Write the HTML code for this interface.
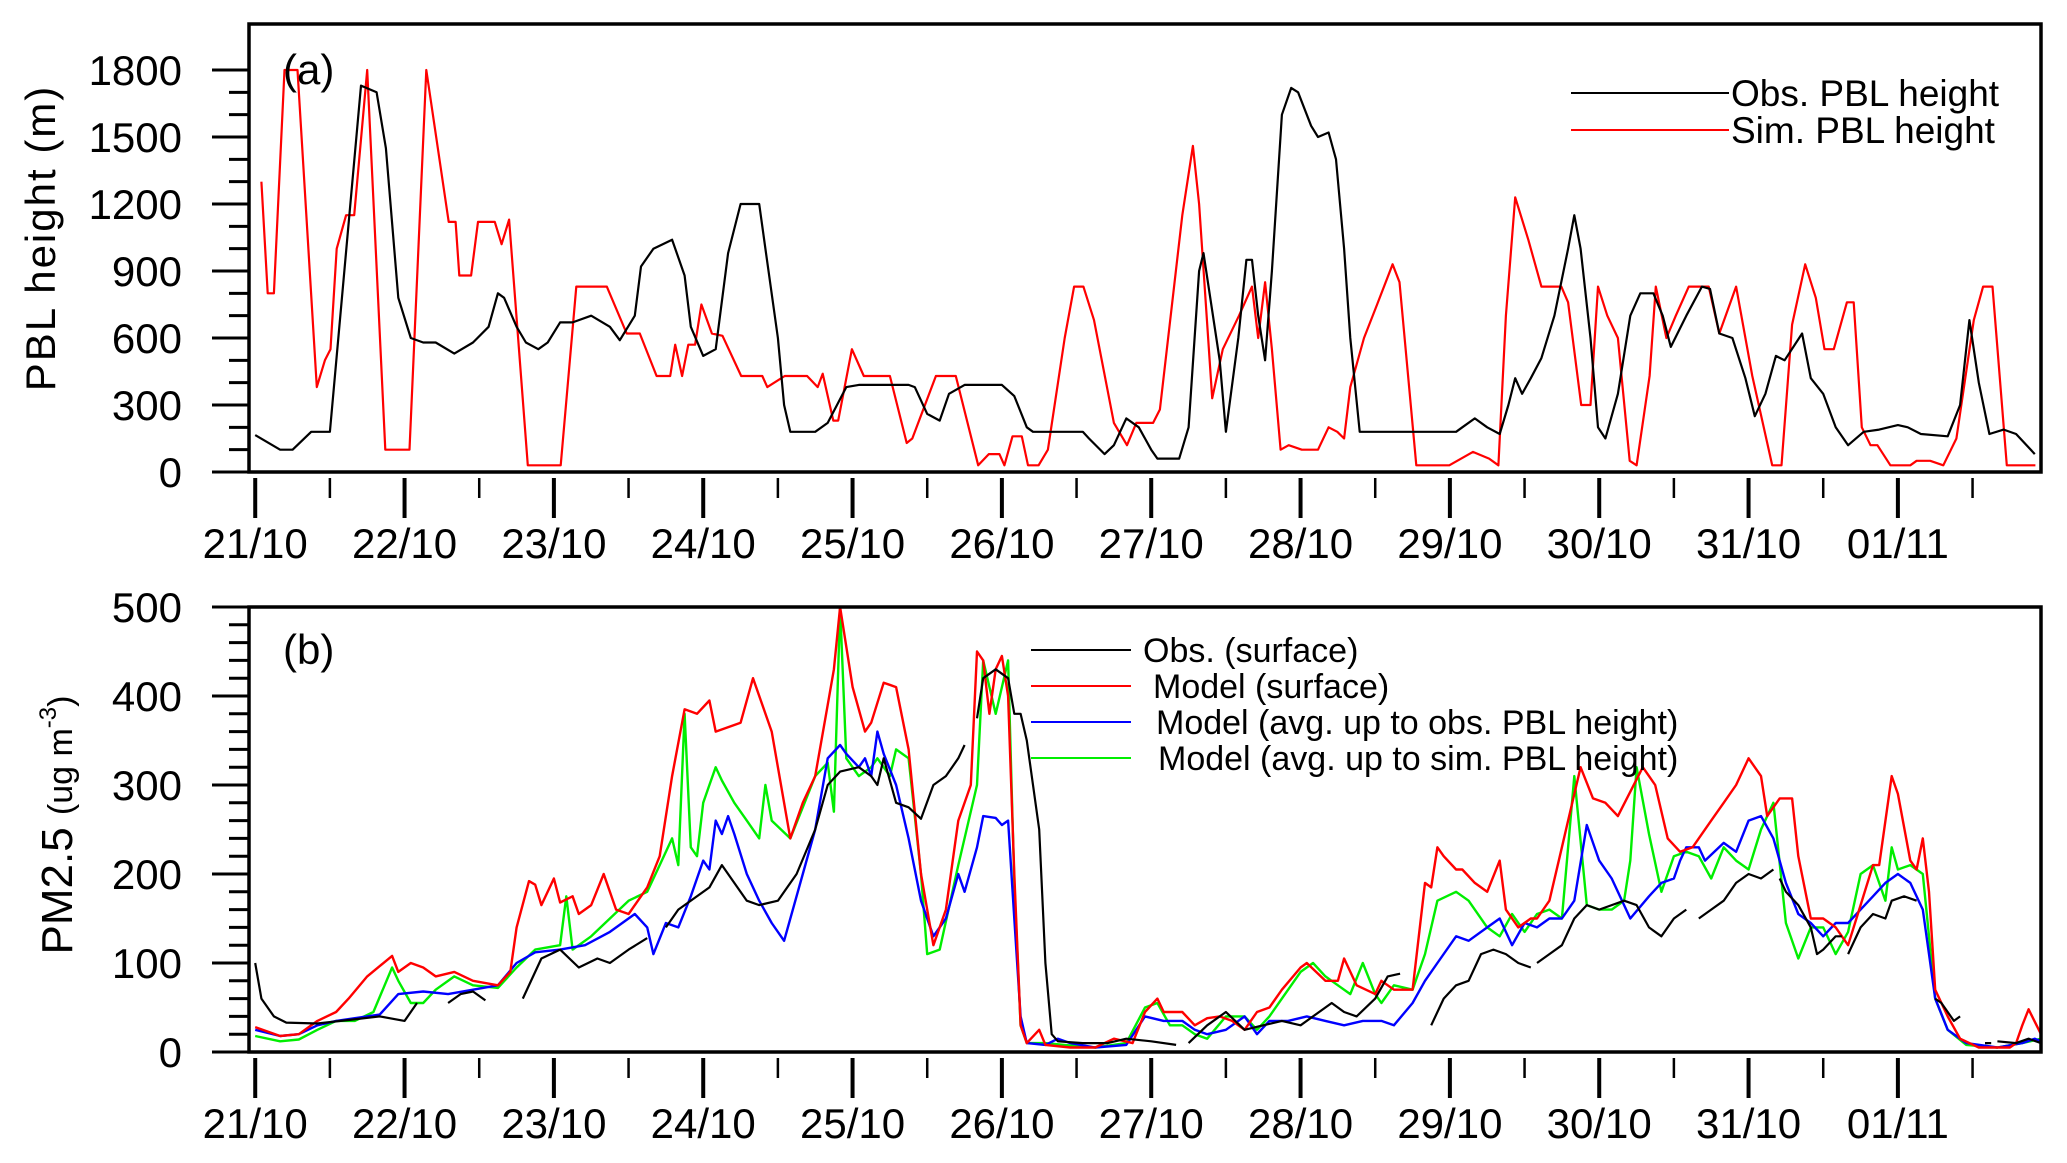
<!DOCTYPE html>
<html><head><meta charset="utf-8"><style>
body{margin:0;background:#fff;}
svg{display:block;font-family:"Liberation Sans",sans-serif;}
</style></head><body>
<svg id="chart" width="2067" height="1163" viewBox="0 0 2067 1163" xmlns="http://www.w3.org/2000/svg"></svg>
<script>
// ---------- data (time in hours from 21/10 00:00) ----------
const dayLabels = ["21/10","22/10","23/10","24/10","25/10","26/10","27/10","28/10","29/10","30/10","31/10","01/11"];
const pblTicks = [0,300,600,900,1200,1500,1800];
const pmTicks = [0,100,200,300,400,500];

const obsPblT = [0,4,6,9,12,17,19.5,21,23,25,27,29,32,35,37.5,39,40,42,43.5,45.5,47,49,51,54,57,58.6,61,62,64,67,69,70,72,74,76,78,81,82,84,85,86,90,92,95,97,105,106,108,110,111.5,114,120,122,124,125,133,134,136.5,138,140,142,144,145,148.5,150,151.7,152.4,155,156,158,159.3,160.2,161.2,162.3,163.4,165,166.5,167.6,169.7,170.8,172.5,173.7,175,176,177.5,193,194,196,198,200,201.4,202.5,203.6,205,206.7,208.8,211,212,213,214.6,215.8,217,219,221,222.6,224.7,226.2,227.5,230,232.5,233.8,235.3,237.4,239.5,241,242.7,244.4,245.8,248.6,250,252,254,256,258.5,261,264,265.6,267.7,272,274,275.5,277,278.7,281,283,286];
const obsPbl = [165,100,100,180,180,1730,1700,1450,780,600,580,580,530,580,650,800,780,650,580,550,580,670,670,700,650,590,700,920,1000,1040,880,650,520,550,980,1200,1200,1000,600,300,180,180,220,380,390,390,380,260,230,350,390,390,340,200,180,180,150,80,120,240,200,100,60,60,200,900,980,500,180,600,950,950,700,500,900,1600,1720,1700,1550,1500,1520,1400,1000,600,180,180,200,240,200,170,300,420,350,420,510,700,1000,1150,1000,600,200,150,350,700,800,800,700,560,700,830,820,620,600,420,250,350,520,500,620,420,350,200,120,180,190,210,200,170,160,300,680,400,170,190,170,80];

const simPblT = [1,2,3,4.7,6.8,9.9,11.2,12.1,13.1,14.6,15.9,18,20.9,24.8,27.5,31.1,32.2,32.8,34.7,35.8,38.5,39.6,40.8,43.8,49.1,51.6,56.5,59.7,61.8,64.5,66.7,67.5,68.6,69.6,70.7,71.7,73.4,75.1,78.1,81.5,82.3,85.1,88.7,90.4,91.2,92.9,93.7,95.9,97.8,102,104.7,105.6,109.4,112.6,116.2,117.9,119.6,120.4,121.7,123.2,124.2,125.9,127.4,130.1,131.6,133.1,134.8,138,140.1,141.6,144.3,145.4,149,150.7,151.7,153.8,155.5,158.1,160.2,161.2,162.3,163.4,164.8,166.1,168.2,170.8,172.5,173.9,175,176,178.2,180.3,182.8,183.9,186.6,191.9,195.7,198.3,199.8,201,202.5,204.6,206.7,209.9,211,213.1,214.6,215.8,217.3,219,220.9,222,224.1,225.1,226.8,228.3,230.4,233.6,235.3,238,240.6,243.8,245.3,247,249.1,250.8,252.2,253.7,255.8,256.9,258.2,259.6,260.7,262.8,266,267,269.2,271.3,273.4,276.2,277.7,279.2,281.5,286.1];
const simPbl = [1300,800,800,1800,1800,380,500,550,1000,1150,1150,1800,100,100,1800,1120,1120,880,880,1120,1120,1020,1130,30,30,830,830,620,620,430,430,570,430,570,570,750,620,610,430,430,380,430,430,380,440,230,230,550,430,430,130,150,430,430,30,80,80,30,160,160,30,30,100,600,830,830,680,220,120,220,220,280,1150,1460,1200,330,550,700,830,600,850,550,100,120,100,100,200,180,150,380,600,750,930,850,30,30,90,60,30,700,1230,1040,830,830,760,300,300,830,700,600,50,30,430,830,600,700,830,830,620,830,430,30,30,660,930,780,550,550,760,760,200,120,120,30,30,50,50,30,150,680,830,830,30,30];

const redT = [0,4,7,10,13,15,18,22,23,25,27,29,32,35,39,41,42,44,45,46,48,49,51,52,54,56,58,60,63,65,67,69,71,73,74,78,80,83,86,88,90,92,93,94,96,98,99,101,103,105,107,109,111,113,115,116,117,118,119,120,121,122,123,124,126,127,131,135,138,141,143,145,146,149,151,153,155,157,159,161,163,165,168,169,172,174,175,177,180,181,183,186,188,189,190,191,193,194,196,198,200,201,203,205,206,208,210,211,213,215,217,219,223,225,227,229,231,234,236,238,240,242,243,245,247,248,250,252,254,256,258,260,261,263,264,266,267,268,269,270,272,274,277,282,283,284,285,287];
const redV = [28,18,20,35,45,60,85,108,90,100,95,85,90,80,75,90,140,192,188,165,195,168,175,155,165,200,160,155,185,220,310,385,380,395,360,370,420,360,240,280,310,390,430,500,410,360,370,415,410,340,200,120,160,260,300,450,440,380,430,445,400,200,30,10,25,8,5,5,15,10,45,60,45,45,30,38,40,35,25,45,50,70,95,100,80,80,105,75,65,80,70,70,190,185,230,220,205,205,190,180,215,160,140,150,150,170,230,260,320,285,280,265,320,300,240,225,230,260,280,300,330,310,265,285,285,220,150,150,140,120,165,210,210,310,290,215,205,240,180,70,40,15,5,5,10,30,48,20];

const blueT = [0,4,7,10,13,16,20,23,27,31,35,39,42,45,49,53,57,61,63,64,66,68,70,72,73,74,75,76,77,79,81,83,85,88,90,92,94,95,97,98,99,100,101,103,105,107,109,111,113,114,116,117,119,120,121,122,123,124,127,129,131,135,140,143,146,149,151,153,156,159,161,163,166,169,172,175,178,181,183,186,188,190,193,195,198,200,202,204,206,208,210,212,214,216,218,221,224,226,228,229,230,232,233,236,238,240,242,244,246,248,250,252,254,256,258,260,262,264,266,268,270,272,275,280,284,286,287];
const blueV = [25,18,20,30,35,38,42,65,68,65,70,75,100,112,115,120,135,155,140,110,145,140,175,215,205,260,245,265,245,200,170,145,125,200,250,330,345,335,320,330,310,360,335,300,240,170,130,150,200,180,230,265,263,255,260,150,40,10,8,15,10,5,8,40,35,35,25,20,25,40,20,35,35,40,35,30,35,35,30,55,80,100,130,125,140,150,120,145,140,150,150,170,255,215,195,150,175,190,195,215,230,230,215,235,225,260,265,240,190,155,145,130,145,145,160,175,190,200,190,160,60,25,10,5,10,15,12];

const greenT = [0,4,7,10,13,16,19,22,23,25,27,29,32,35,39,42,45,49,50,51,54,57,60,63,65,67,68,69,70,71,72,73,74,75,77,79,81,82,83,86,88,90,92,93,94,95,97,99,100,102,103,105,107,108,110,113,116,117,119,120,121,122,123,124,127,130,135,140,143,145,147,149,151,153,156,159,161,163,165,168,170,172,174,176,178,180,181,183,186,188,190,193,195,198,200,202,204,206,208,210,212,214,216,218,220,221,222,224,226,228,230,232,234,236,238,240,242,244,246,248,250,252,254,256,258,260,262,263,264,266,268,270,272,275,280,284,287];
const greenV = [18,12,14,25,35,35,45,95,80,55,55,70,85,75,72,95,115,120,175,115,130,150,170,180,210,240,210,380,230,220,280,300,320,305,280,260,240,300,260,240,275,310,325,270,500,330,310,320,330,310,340,330,200,110,115,210,300,440,380,410,440,190,30,10,10,8,5,10,50,55,30,30,20,15,40,40,25,40,60,90,100,85,75,65,100,65,55,75,70,110,170,180,170,140,130,155,135,155,160,150,310,165,160,160,170,215,320,245,180,220,225,220,195,230,215,205,250,280,145,105,140,140,110,135,200,210,170,230,205,210,200,60,25,8,5,10,15];

// observed surface PM2.5 (null = missing)
const obsPmT = [0,1,3,5,10,15,20,24,26,27,31,33,35,37,38,43,46,49,52,55,57,60,63,64,66,68,73,75,77,79,81,84,87,90,92,94,97,99,100,101,103,105,107,109,111,113,114,115,116,117,119,121,122,123,124,125,126,127,128,129,133,137,140,144,148,149,150,153,156,159,162,165,168,170,173,175,177,180,182,184,185,186,187,189,191,193,195,197,199,201,203,205,205.5,206,208,210,212,214,216,218,220,222,224,226,228,230,231,232,234,236,238,240,242,244,244.5,245,246,248,250,251,252,254,255,255.5,256,258,260,262,263,265,267,268,270,271,272,273,274,275,278,279,279.5,280,283,285,287];
const obsPm = [100,60,40,33,32,36,40,35,55,null,55,65,68,58,null,60,105,115,95,105,100,115,128,null,140,160,185,210,190,170,165,170,200,250,300,315,320,310,300,330,280,275,262,300,310,330,345,null,375,420,430,420,380,380,350,300,250,100,20,12,10,10,15,12,8,null,10,30,45,25,30,35,30,40,55,45,40,60,85,88,null,70,null,30,60,75,80,110,115,110,100,95,null,100,110,120,150,165,160,165,170,165,140,130,150,160,null,150,160,170,190,200,195,205,null,195,180,165,140,110,115,130,130,null,110,140,155,150,170,175,170,null,60,55,45,35,40,null,10,10,null,12,10,15,10];

// ---------- layout ----------
const svg = document.getElementById('chart');
const NS = 'http://www.w3.org/2000/svg';
function mk(tag, attrs, parent){
  const e = document.createElementNS(NS, tag);
  for (const k in attrs) e.setAttribute(k, attrs[k]);
  (parent || svg).appendChild(e);
  return e;
}
const X0 = 249, X1 = 2041;
const tMin = -1, tMax = 287;
function xs(t){ return X0 + (t - tMin) / (tMax - tMin) * (X1 - X0); }
const A = {top:24, bot:472, vmax:1800*(472-24)/(472-70)};
const B = {top:607, bot:1052, vmax:500};
function ya(v){ return A.bot - v / A.vmax * (A.bot - A.top); }
function yb(v){ return B.bot - v / B.vmax * (B.bot - B.top); }

function linePath(T, V, yf){
  let d = '', pen = false;
  for (let i = 0; i < T.length; i++){
    if (V[i] === null){ pen = false; continue; }
    d += (pen ? 'L' : 'M') + xs(T[i]).toFixed(1) + ' ' + yf(V[i]).toFixed(1);
    pen = true;
  }
  return d;
}

function drawPanel(P, yf, ticks, minorStep, vmaxTick, panelName){
  const g = mk('g', {});
  
  
  for (let v = 0; v <= vmaxTick; v += minorStep){
    const y = yf(v);
    const major = ticks.includes(v);
    const t = mk('line', {x1: major ? X0-37 : X0-20, x2: X0, y1: y, y2: y, stroke:'#000', 'stroke-width': 3}, g);
    
    
  }
  ticks.forEach(v => {
    const tx = mk('text', {x: 182, y: yf(v) + 15, 'text-anchor':'end', 'font-size': 42}, g);
    tx.textContent = v;
    
    
  });
  for (let h = 0; h <= 276; h += 12){
    const major = h % 24 === 0;
    const x = xs(h);
    const t = mk('line', {x1: x, x2: x, y1: P.bot + 6, y2: P.bot + (major ? 46 : 26), stroke:'#000', 'stroke-width': major ? 4 : 2.5}, g);
    
    
  }
  dayLabels.forEach((lab, i) => {
    const tx = mk('text', {x: xs(i*24), y: P.bot + 86, 'text-anchor':'middle', 'font-size': 42}, g);
    tx.textContent = lab;
    
    
  });
  return g;
}

drawPanel(A, ya, pblTicks, 100, 1800, 'panel-a-axes');
drawPanel(B, yb, pmTicks, 20, 500, 'panel-b-axes');

function series(T, V, yf, color, w, name){
  const p = mk('path', {d: linePath(T, V, yf), fill:'none', stroke: color, 'stroke-width': w, 'stroke-linejoin':'round'});
  
  
}
series(simPblT, simPbl, ya, '#ff0000', 2.2, 'sim-pbl-line');
series(obsPblT, obsPbl, ya, '#000', 2.2, 'obs-pbl-line');
series(greenT, greenV, yb, '#00ee00', 2.4, 'model-avg-sim-pbl-line');
series(blueT, blueV, yb, '#0000ff', 2.4, 'model-avg-obs-pbl-line');
series(redT, redV, yb, '#ff0000', 2.4, 'model-surface-line');
series(obsPmT, obsPm, yb, '#000', 2.2, 'obs-surface-line');

[A, B].forEach((P, i) => {
  const r = mk('rect', {x: X0, y: P.top, width: X1 - X0, height: P.bot - P.top, fill:'none', stroke:'#000', 'stroke-width': 3.5});
  
  
});

function txt(x, y, s, size, name, extra){
  const t = mk('text', Object.assign({x: x, y: y, 'font-size': size}, extra || {}));
  t.textContent = s;
  
  
  return t;
}
txt(283, 84, '(a)', 42, 'panel-a-label');
txt(283, 664, '(b)', 42, 'panel-b-label');

txt(0, 0, 'PBL  height  (m)', 42, 'y-axis-title-a', {transform:'translate(55,238) rotate(-90)', 'text-anchor':'middle', 'letter-spacing':'2'});
const yt = mk('text', {transform:'translate(72,825) rotate(-90)', 'text-anchor':'middle', 'font-size': 44});


yt.innerHTML = 'PM2.5 <tspan font-size="34">(ug m</tspan><tspan font-size="24" dy="-16">-3</tspan><tspan font-size="34" dy="16">)</tspan>';

const legA = [['Obs. PBL height','#000'],['Sim. PBL height','#ff0000']];
legA.forEach((e, i) => {
  const y = 93 + i*37;
  const l = mk('line', {x1:1571, x2:1729, y1:y, y2:y, stroke:e[1], 'stroke-width':2});
  
  
  txt(1731, y + 13, e[0], 37, 'legend-a-entry');
});
const legB = [['Obs. (surface)','#000',1143],['Model  (surface)','#ff0000',1153],['Model  (avg. up to obs. PBL  height)','#0000ff',1156],['Model  (avg. up to sim. PBL  height)','#00ee00',1158]];
legB.forEach((e, i) => {
  const y = 650 + i*36;
  const l = mk('line', {x1:1031, x2:1131, y1:y, y2:y, stroke:e[1], 'stroke-width':2});
  
  
  txt(e[2], y + 12, e[0], 34, 'legend-b-entry');
});
</script>
</body></html>
